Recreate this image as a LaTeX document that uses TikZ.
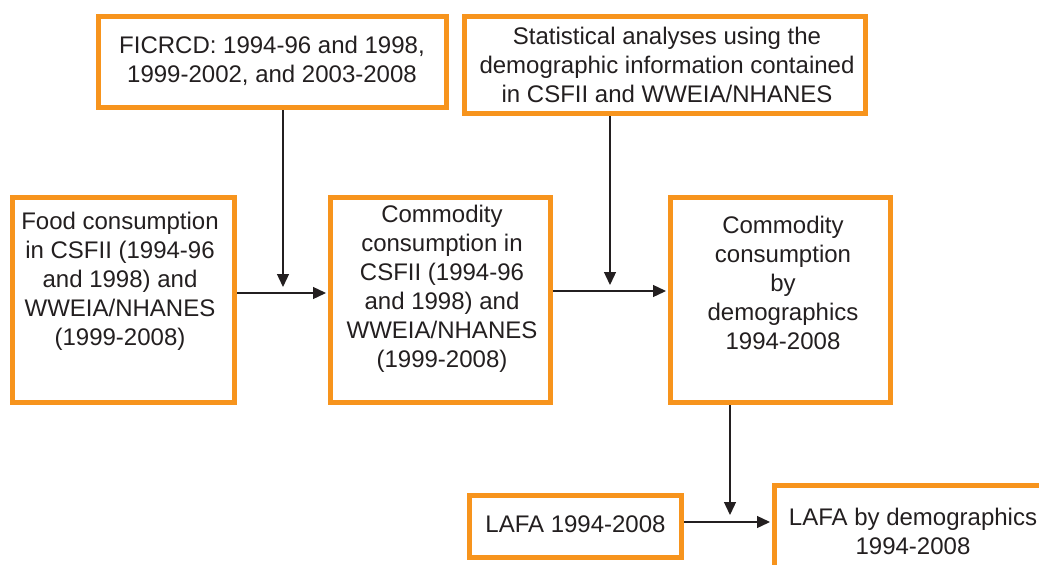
\documentclass[tikz,border=0pt]{standalone}
\usepackage{fontspec}
\setmainfont{Liberation Sans}
\usetikzlibrary{arrows.meta}
\definecolor{boxorange}{HTML}{F7941D}
\definecolor{ink}{HTML}{231F20}
\tikzset{
  box/.style={draw=boxorange, line width=5pt, fill=white, inner sep=0pt, line join=miter},
  txt/.style={align=center, text=ink, font=\fontsize{24}{29}\selectfont, inner sep=0pt},
  arr/.style={draw=ink, line width=1.3pt, -{Triangle[length=13pt,width=12pt]}}
}
\begin{document}
\begin{tikzpicture}[x=1pt,y=-1pt]
\useasboundingbox (0,0) rectangle (1039,565);
\clip (0,0) rectangle (1039,565);
% boxes
\node[box, minimum width=348pt, minimum height=91pt] (fic) at (272.5,62) {};
\node[box, minimum width=401pt, minimum height=97pt] (stat) at (665,65) {};
\node[box, minimum width=222pt, minimum height=205pt] (food) at (123.5,300) {};
\node[box, minimum width=220pt, minimum height=205pt] (com) at (440.5,300) {};
\node[box, minimum width=220pt, minimum height=205pt] (dem) at (780.5,300) {};
\node[box, minimum width=212pt, minimum height=62pt] (lafa) at (575.5,526.5) {};
\node[box, minimum width=277pt, minimum height=92pt] (lafad) at (913,531.5) {};
% texts
\node[txt] (ficT) at (272,61) {FICRCD: 1994-96 and 1998,\\1999-2002, and 2003-2008};
\node[txt] (statT) at (667,65) {Statistical analyses using the\\demographic information contained\\in CSFII and WWEIA/NHANES};
\node[txt] (foodT) at (120,281) {Food consumption\\in CSFII (1994-96\\and 1998) and\\WWEIA/NHANES\\(1999-2008)};
\node[txt] (comT) at (442,288.5) {Commodity\\consumption in\\CSFII (1994-96\\and 1998) and\\WWEIA/NHANES\\(1999-2008)};
\node[txt] (demT) at (783,283) {Commodity\\consumption\\by\\demographics\\1994-2008};
\node[txt] (lafaT) at (575.5,524) {LAFA 1994-2008};
\node[txt] (lafadT) at (913,531) {LAFA by demographics\\1994-2008};
% junction points
\coordinate (j1) at (283,287);
\coordinate (j2) at (610,285);
\coordinate (j3) at (730,515);
\coordinate (a1) at ([yshift=7pt]food.east);
\coordinate (a2) at ([yshift=9pt]com.east);
\coordinate (a3) at ([yshift=4.5pt]lafa.east);
% connectors
\draw[arr] (j1 |- fic.south) -- (j1);
\draw[arr] (a1) -- ([xshift=-2pt]com.west |- a1);
\draw[arr] (j2 |- stat.south) -- (j2);
\draw[arr] (a2) -- ([xshift=-2pt]dem.west |- a2);
\draw[arr] (j3 |- dem.south) -- (j3);
\draw[arr] (a3) -- ([xshift=-2pt]lafad.west |- a3);
\end{tikzpicture}
\end{document}
